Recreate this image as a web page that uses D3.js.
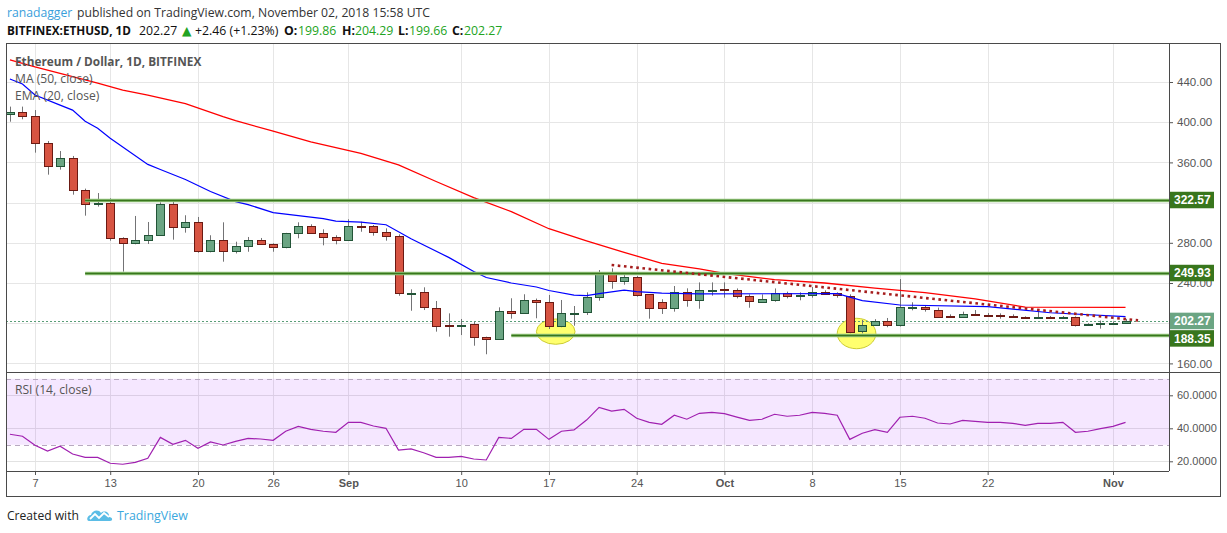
<!DOCTYPE html>
<html><head><meta charset="utf-8">
<script src="https://cdn.jsdelivr.net/npm/d3@7/dist/d3.min.js"></script>
<style>
body{margin:0;background:#fff;}
svg{display:block;}
</style></head><body>
<svg id="c" width="1227" height="533"></svg>
<script>
// ---------------- DATA ----------------
const dates = ["2018-08-05","2018-08-06","2018-08-07","2018-08-08","2018-08-09","2018-08-10","2018-08-11","2018-08-12","2018-08-13","2018-08-14",
"2018-08-15","2018-08-16","2018-08-17","2018-08-18","2018-08-19","2018-08-20","2018-08-21","2018-08-22","2018-08-23","2018-08-24",
"2018-08-25","2018-08-26","2018-08-27","2018-08-28","2018-08-29","2018-08-30","2018-08-31","2018-09-01","2018-09-02","2018-09-03",
"2018-09-04","2018-09-05","2018-09-06","2018-09-07","2018-09-08","2018-09-09","2018-09-10","2018-09-11","2018-09-12","2018-09-13",
"2018-09-14","2018-09-15","2018-09-16","2018-09-17","2018-09-18","2018-09-19","2018-09-20","2018-09-21","2018-09-22","2018-09-23",
"2018-09-24","2018-09-25","2018-09-26","2018-09-27","2018-09-28","2018-09-29","2018-09-30","2018-10-01","2018-10-02","2018-10-03",
"2018-10-04","2018-10-05","2018-10-06","2018-10-07","2018-10-08","2018-10-09","2018-10-10","2018-10-11","2018-10-12","2018-10-13",
"2018-10-14","2018-10-15","2018-10-16","2018-10-17","2018-10-18","2018-10-19","2018-10-20","2018-10-21","2018-10-22","2018-10-23",
"2018-10-24","2018-10-25","2018-10-26","2018-10-27","2018-10-28","2018-10-29","2018-10-30","2018-10-31","2018-11-01","2018-11-02"];

const open  = [408.2,409.8,406.2,379.0,356.1,364.1,332.2,318.3,319.3,284.5, 279.5,282.2,287.5,318.3,295.4,300.4,271.1,282.5,271.1,276.5,
 282.5,278.5,275.5,289.5,296.4,289.5,285.5,282.5,297.2,296.6, 290.4,286.4,229.5,230.7,215.4,198.0,197.2,198.9,186.0,184.0,
 211.8,209.8,223.1,220.8,196.5,209.5,210.8,225.5,248.6,241.6, 245.6,228.8,220.8,214.8,230.7,222.8,233.0,233.7,232.7,226.7,
 221.4,223.4,230.0,226.7,227.4,230.7,229.7,227.4,192.0,198.0, 202.0,198.0,215.5,215.8,213.5,207.2,205.8,209.5,208.2,208.1,
 207.5,206.2,205.5,206.0,205.2,206.2,198.4,198.8,198.9,199.86];
const high  = [415.5,415.5,412.1,381.3,371.3,366.4,333.9,329.5,324.3,285.5, 306.7,300.7,320.3,322.6,307.4,305.7,287.5,300.4,281.1,285.8,
 284.8,279.5,289.9,300.4,298.4,293.4,287.5,303.4,301.0,297.7, 294.4,288.4,233.7,235.7,222.1,209.8,204.2,201.5,186.6,215.8,
 224.8,228.8,224.5,228.1,223.1,217.1,230.7,252.9,254.6,249.6, 246.9,228.8,223.8,237.0,234.7,240.6,240.6,240.6,234.6,228.7,
 228.7,234.6,231.4,230.7,236.0,232.7,230.7,228.7,203.2,204.0, 205.2,243.9,220.8,217.5,215.5,208.8,211.5,213.1,210.1,209.8,
 208.8,206.8,211.8,207.2,207.2,206.8,200.0,202.6,201.8,204.29];
const low   = [400.5,402.9,369.7,347.8,352.8,327.9,307.0,316.0,282.1,251.3, 278.5,278.8,287.0,283.1,290.1,270.1,270.5,261.2,269.4,271.1,
 278.0,271.1,274.5,284.5,289.0,277.5,278.5,282.0,291.0,287.1, 282.1,227.3,212.4,213.1,191.6,186.6,188.2,177.6,169.1,183.5,
 204.5,209.3,204.9,194.2,196.0,197.5,208.2,222.4,234.3,238.3, 226.4,204.5,209.2,211.5,216.4,214.4,227.4,225.4,224.7,215.4,
 221.0,221.4,224.7,222.8,225.4,228.5,225.4,190.0,190.0,197.4, 196.0,196.7,212.8,211.5,205.5,205.5,205.6,208.5,206.8,204.5,
 205.5,204.5,204.8,204.8,205.0,196.7,197.4,194.6,198.6,199.66];
const close = [409.8,405.5,379.0,356.1,364.1,332.2,318.3,319.3,284.5,279.5, 282.5,287.5,318.3,295.4,300.4,271.1,282.5,271.1,276.5,282.5,
 278.5,275.5,289.5,296.4,289.5,285.5,282.5,296.5,296.4,290.4, 286.4,229.7,230.3,215.4,197.9,197.2,197.9,186.0,184.0,211.8,
 209.5,222.8,220.8,196.5,209.8,210.2,225.8,248.6,241.6,245.6, 227.8,214.8,214.8,230.7,222.8,232.7,233.5,232.7,226.7,221.4,
 224.1,230.0,226.7,228.1,230.7,228.7,227.4,192.0,198.0,202.0, 198.0,215.8,216.2,213.5,206.8,206.5,208.8,209.0,207.5,206.8,
 206.2,205.2,206.0,205.2,206.5,198.0,198.8,199.9,199.8,202.27];

const rsi = [36.4,35.2,29.7,26.2,29.1,24.4,22.4,22.4,18.8,18.2, 19.4,21.8,34.5,30.3,32.7,27.9,31.7,29.9,32.1,33.9,
 33.5,32.7,38.2,41.2,39.4,38.2,37.6,43.6,43.6,41.4, 40.0,26.8,27.5,25.2,22.4,22.4,23.0,21.4,20.8,34.5,
 33.9,39.4,39.4,33.3,38.2,39.0,45.0,52.7,50.4,51.5, 46.1,43.6,42.4,47.9,45.5,49.1,49.7,48.9,46.8,44.8,
 45.5,48.5,47.3,47.9,49.7,49.1,47.9,33.3,37.0,39.2, 37.6,46.7,47.3,46.1,43.2,42.6,44.8,44.2,43.6,43.6,
 43.0,41.8,43.0,43.0,43.6,37.6,38.2,39.8,41.2,43.6];

// EMA(20)
const emaDates = ["2018-08-05","2018-08-06","2018-08-07","2018-08-09","2018-08-10","2018-08-11","2018-08-12","2018-08-13","2018-08-16","2018-08-17",
 "2018-08-19","2018-08-20","2018-08-21","2018-08-23","2018-08-24","2018-08-26","2018-08-28","2018-08-30","2018-08-31","2018-09-02",
 "2018-09-04","2018-09-06","2018-09-09","2018-09-11","2018-09-12","2018-09-14","2018-09-16","2018-09-17","2018-09-19","2018-09-20",
 "2018-09-21","2018-09-23","2018-09-24","2018-09-26","2018-09-29","2018-10-10","2018-10-11","2018-10-12","2018-10-15","2018-10-22",
 "2018-10-27","2018-11-02"];
const emaVals = [443,438,427,417,412,401,394,384,358,353, 343,337,331,321,318,310,307,304,301.5,300.5,
 298,284,265.5,251.5,245.5,240,236,232.5,228,227.5, 229.5,233,231.5,230,229.2,229.4,226,222.5,218.1,216.4,
 210.4,206.5];

// MA(50)
const maDates = ["2018-08-05","2018-08-07","2018-08-12","2018-08-14","2018-08-16","2018-08-19","2018-08-22","2018-08-23","2018-08-26","2018-08-29",
 "2018-09-02","2018-09-05","2018-09-08","2018-09-11","2018-09-14","2018-09-17","2018-09-20","2018-09-23","2018-09-26","2018-09-29",
 "2018-10-01","2018-10-05","2018-10-09","2018-10-13","2018-10-17","2018-10-21","2018-10-25","2018-11-02"];
const maVals = [462,455,439,432,427,418.5,405.5,401.5,391,380.5, 369,357.5,341,325,311,294,282,270.5,259.5,254,
 249.5,243.3,240,235,230.5,224.3,216,215.8];

// drawings
const levelVals  = [322.57, 249.93, 188.35];
const levelStart = ["2018-08-11","2018-08-11","2018-09-14"];
const trendDates = ["2018-09-22","2018-11-03"];
const trendVals  = [257.9, 202.8];
const ellipseDates = [["2018-09-16","2018-09-19T02:00"],["2018-10-10","2018-10-13T02:00"]];
const ellipseVals  = [[204.2,179.0],[204.9,174.6]];
const lastPrice = 202.27;

// ticks
const priceTicks = [160,200,240,280,320,360,400,440];
const priceLabelsHidden = [200,320]; // covered by the level/price boxes in the reference
const rsiTicks = [20,40,60];
const rsiBand = [30,70];
const xTickDates  = ["2018-08-07","2018-08-13","2018-08-20","2018-08-26","2018-09-01","2018-09-10","2018-09-17","2018-09-24","2018-10-01","2018-10-08","2018-10-15","2018-10-22","2018-11-01"];
const xTickLabels = ["7","13","20","26","Sep","10","17","24","Oct","8","15","22","Nov"];
const boldTicks = ["Sep","Oct","Nov"];

// ---------------- LAYOUT ----------------
const L = 6, R = 1169, RR = 1220, T = 43, MB = 372, RB = 471, BB = 496;
const pd = s => new Date(s.length > 10 ? s + "Z" : s + "T00:00:00Z");
const svg = d3.select("#c");
const AX = "'Liberation Sans', Arial, sans-serif";
const TXT = "'Open Sans', 'DejaVu Sans', sans-serif";

const x = d3.scaleUtc().domain([pd("2018-08-07"), pd("2018-11-01")]).range([35, 1113]);
const y = d3.scaleLinear().domain([160, 440]).range([363.4, 82]);
const yr = d3.scaleLinear().domain([20, 60]).range([461.3, 395.3]);

svg.append("defs").append("clipPath").attr("id","mainclip")
  .append("rect").attr("x",L).attr("y",T).attr("width",R-L).attr("height",MB-T);
svg.select("defs").append("clipPath").attr("id","rsiclip")
  .append("rect").attr("x",L).attr("y",MB).attr("width",R-L).attr("height",RB-MB);

// ---------------- GRID ----------------
const grid = svg.append("g").attr("stroke","#e6e6e6").attr("stroke-width",1);
xTickDates.forEach(d => {
  const px = Math.round(x(pd(d))) + 0.5;
  grid.append("line").attr("x1",px).attr("x2",px).attr("y1",T).attr("y2",RB);
});
priceTicks.forEach(v => {
  const py = Math.round(y(v)) + 0.5;
  grid.append("line").attr("x1",L).attr("x2",R).attr("y1",py).attr("y2",py);
});

// RSI band + grid
const rg = svg.append("g").attr("clip-path","url(#rsiclip)");
rsiTicks.forEach(v => {
  const py = Math.round(yr(v)) + 0.5;
  rg.append("line").attr("x1",L).attr("x2",R).attr("y1",py).attr("y2",py).attr("stroke","#e2e2e2");
});
rg.append("rect").attr("x",L).attr("width",R-L)
  .attr("y",yr(rsiBand[1])).attr("height",yr(rsiBand[0])-yr(rsiBand[1]))
  .attr("fill","#9915ff").attr("fill-opacity",0.1);
rsiBand.forEach(v => {
  const py = Math.round(yr(v)) + 0.5;
  rg.append("line").attr("x1",L).attr("x2",R).attr("y1",py).attr("y2",py)
    .attr("stroke","#b8a9c0").attr("stroke-dasharray","5,4");
});
rg.append("path").datum(rsi.map((v,i)=>[pd(dates[i]),v]))
  .attr("fill","none").attr("stroke","#a020b0").attr("stroke-width",1.2)
  .attr("d", d3.line().x(d=>x(d[0])).y(d=>yr(d[1])));

// ---------------- MAIN PANE ----------------
const mg = svg.append("g").attr("clip-path","url(#mainclip)");

// ellipses (behind candles)
ellipseDates.forEach((ed,i) => {
  const x0 = x(pd(ed[0])), x1 = x(pd(ed[1]));
  const y0 = y(ellipseVals[i][0]), y1 = y(ellipseVals[i][1]);
  mg.append("ellipse").attr("cx",(x0+x1)/2).attr("cy",(y0+y1)/2)
    .attr("rx",(x1-x0)/2).attr("ry",(y1-y0)/2)
    .attr("fill","#ffff6e").attr("stroke","#cccc33").attr("stroke-width",1);
});

// last price dotted line
mg.append("line").attr("x1",L).attr("x2",R)
  .attr("y1",Math.round(y(lastPrice))+0.5).attr("y2",Math.round(y(lastPrice))+0.5)
  .attr("stroke","#5a9e78").attr("stroke-dasharray","2,2").attr("stroke-width",1);

// candles
const cg = mg.append("g");
dates.forEach((d,i) => {
  const cx = Math.round(x(pd(d))) + 0.5;
  const up = close[i] >= open[i];
  cg.append("line").attr("x1",cx).attr("x2",cx)
    .attr("y1",y(high[i])).attr("y2",y(low[i]))
    .attr("stroke","#737375").attr("stroke-width",1);
  const top = y(Math.max(open[i],close[i])), bot = y(Math.min(open[i],close[i]));
  const yt = Math.round(top) + 0.5;
  const h = Math.max(1, Math.round(bot - top));
  cg.append("rect").attr("x",cx-4).attr("width",8).attr("y",yt).attr("height",h)
    .attr("fill", up ? "#6ba583" : "#d75442")
    .attr("stroke", up ? "#225437" : "#6b1a13").attr("stroke-width",1);
});

// MA & EMA
mg.append("path").datum(maDates.map((d,i)=>[pd(d),maVals[i]]))
  .attr("fill","none").attr("stroke","#ff0000").attr("stroke-width",1.3)
  .attr("d", d3.line().x(d=>x(d[0])).y(d=>y(d[1])));
mg.append("path").datum(emaDates.map((d,i)=>[pd(d),emaVals[i]]))
  .attr("fill","none").attr("stroke","#0000ff").attr("stroke-width",1.2)
  .attr("d", d3.line().x(d=>x(d[0])).y(d=>y(d[1])));

// horizontal levels
levelVals.forEach((v,i) => {
  const py = Math.round(y(v)) + 0.5;
  const x0 = x(pd(levelStart[i]));
  mg.append("line").attr("x1",x0).attr("x2",R).attr("y1",py).attr("y2",py)
    .attr("stroke","#93c47d").attr("stroke-width",3.5);
  mg.append("line").attr("x1",x0).attr("x2",R).attr("y1",py).attr("y2",py)
    .attr("stroke","#38761d").attr("stroke-width",1.6);
});

// trend dotted line
mg.append("line")
  .attr("x1",x(pd(trendDates[0]))).attr("y1",y(trendVals[0]))
  .attr("x2",x(pd(trendDates[1]))).attr("y2",y(trendVals[1]))
  .attr("stroke","#a51d1d").attr("stroke-width",2.6).attr("stroke-dasharray","2.6,3.6");

// ---------------- AXES ----------------
const pa = svg.append("g").attr("transform",`translate(${R},0)`)
  .call(d3.axisRight(y).tickValues(priceTicks)
    .tickFormat(v => priceLabelsHidden.includes(v) ? "" : d3.format(".2f")(v))
    .tickSize(4).tickPadding(4));
pa.select(".domain").remove();
pa.selectAll("line").attr("stroke","#555");
pa.selectAll("text").attr("fill","#555").attr("font-family",AX).attr("font-size",11.5);

const ra = svg.append("g").attr("transform",`translate(${R},0)`)
  .call(d3.axisRight(yr).tickValues(rsiTicks).tickFormat(d3.format(".4f")).tickSize(4).tickPadding(4));
ra.select(".domain").remove();
ra.selectAll("line").attr("stroke","#555");
ra.selectAll("text").attr("fill","#555").attr("font-family",AX).attr("font-size",11);

const xa = svg.append("g").attr("transform",`translate(0,${RB})`)
  .call(d3.axisBottom(x).tickValues(xTickDates.map(pd)).tickFormat((d,i)=>xTickLabels[i]).tickSize(4).tickPadding(4));
xa.select(".domain").remove();
xa.selectAll("line").attr("stroke","#555");
xa.selectAll("text").attr("fill","#555").attr("font-family",AX).attr("font-size",11)
  .attr("font-weight",(d,i)=>boldTicks.includes(xTickLabels[i]) ? "bold" : "normal");

// price label boxes
const boxes = [
  {v:levelVals[0], fill:"#38761d"},
  {v:levelVals[1], fill:"#38761d"},
  {v:lastPrice, fill:"#6ba583"},
  {v:levelVals[2], fill:"#38761d"}
].map(b => ({...b, cy: y(b.v)})).sort((a,b)=>a.cy-b.cy);
const BH = 16.5;
let prevBottom = -1e9;
boxes.forEach(b => {
  let top = b.cy - BH/2;
  if (top < prevBottom + 1) top = prevBottom + 1;
  b.top = top; prevBottom = top + BH;
});
const bg = svg.append("g");
boxes.forEach(b => {
  bg.append("rect").attr("x",R).attr("y",b.top).attr("width",45).attr("height",BH).attr("fill",b.fill);
  bg.append("text").attr("x",R+5).attr("y",b.top+BH/2).attr("dy","0.36em")
    .attr("fill","#fff").attr("font-family",AX).attr("font-weight","bold").attr("font-size",12)
    .text(b.v.toFixed(2));
});

// ---------------- FRAME ----------------
const fr = svg.append("g").attr("stroke","#4a4a4a").attr("stroke-width",1).attr("fill","none");
fr.append("rect").attr("x",L+0.5).attr("y",T+0.5).attr("width",RR-L).attr("height",BB-T);
fr.append("line").attr("x1",R+0.5).attr("x2",R+0.5).attr("y1",T).attr("y2",RB);
fr.append("line").attr("x1",L).attr("x2",RR).attr("y1",MB+0.5).attr("y2",MB+0.5);
fr.append("line").attr("x1",L).attr("x2",R).attr("y1",RB+0.5).attr("y2",RB+0.5);

// ---------------- LEGENDS ----------------
const lg = svg.append("g").attr("font-family",TXT).attr("fill","#555");
lg.append("text").attr("x",15).attr("y",65.5).attr("font-size",11.8).attr("font-weight","bold").text("Ethereum / Dollar, 1D, BITFINEX");
lg.append("text").attr("x",15).attr("y",82.5).attr("font-size",12.1).text("MA (50, close)");
lg.append("text").attr("x",15).attr("y",99.5).attr("font-size",12.1).text("EMA (20, close)");
lg.append("text").attr("x",15).attr("y",394).attr("font-size",12.1).text("RSI (14, close)");

// ---------------- HEADER ----------------
const h1 = svg.append("text").attr("x",7).attr("y",17).attr("font-family",TXT).attr("font-size",12.2).attr("fill","#333");
h1.append("tspan").attr("fill","#3aa0dc").text("ranadagger");
h1.append("tspan").attr("x",77).text("published on TradingView.com, November 02, 2018 15:58 UTC");

const h2 = svg.append("text").attr("y",34.5).attr("font-family",TXT).attr("font-size",12.3).attr("fill","#111");
const h2parts = [
  {t:"BITFINEX:ETHUSD, 1D", x:7,   w:"bold", fs:11.7},
  {t:"202.27",              x:139},
  {t:"\u25B2",              x:182, c:"#22a322"},
  {t:"+2.46 (+1.23%)",      x:195},
  {t:"O:",                  x:284, w:"bold"},
  {t:"199.86",              x:298, c:"#22a322"},
  {t:"H:",                  x:342, w:"bold"},
  {t:"204.29",              x:355, c:"#22a322"},
  {t:"L:",                  x:398, w:"bold"},
  {t:"199.66",              x:409, c:"#22a322"},
  {t:"C:",                  x:452, w:"bold"},
  {t:"202.27",              x:464, c:"#22a322"}
];
h2parts.forEach(p => {
  const ts = h2.append("tspan").attr("x",p.x).text(p.t);
  if (p.w) ts.attr("font-weight",p.w);
  if (p.c) ts.attr("fill",p.c);
  if (p.fs) ts.attr("font-size",p.fs);
});

// ---------------- FOOTER ----------------
const ft = svg.append("g");
ft.append("text").attr("x",7).attr("y",520).attr("font-family",TXT).attr("font-size",12.1).attr("fill","#222").text("Created with");
const logo = ft.append("g").attr("transform","translate(87,508)");
logo.append("path").attr("d","M2,13 C-1,13 0,7 4,7 C5,2 12,1 14,5 C17,2 23,4 22,9 C26,9 26,13 23,13 Z").attr("fill","#5bbde6");
logo.append("path").attr("d","M3,11 L8,6 L12,10 L17,5 L22,9").attr("fill","none").attr("stroke","#fff").attr("stroke-width",1.8);
ft.append("text").attr("x",117).attr("y",520).attr("font-family",TXT).attr("font-size",12.4).attr("fill","#3aa8de").text("TradingView");
</script>
</body></html>
